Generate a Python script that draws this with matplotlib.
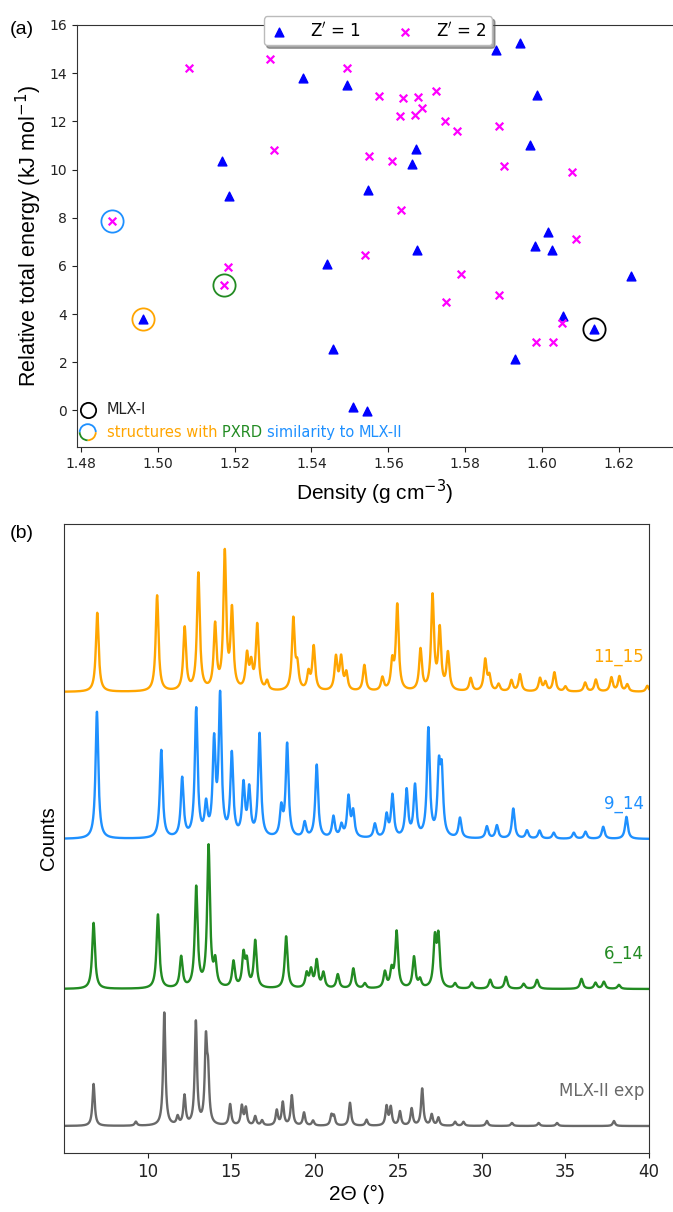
import numpy as np
import matplotlib
matplotlib.use("Agg")
import matplotlib.pyplot as plt
from matplotlib.patches import Arc

# ---------------- Panel (a) data ----------------
z1_density = [1.5379, 1.5493, 1.5167, 1.5186, 1.4961, 1.5440, 1.5457, 1.5509,
              1.5880, 1.5942, 1.5986, 1.5671, 1.5968, 1.5661, 1.5546, 1.6014,
              1.5981, 1.6026, 1.5675, 1.6231, 1.6055, 1.6135, 1.5929, 1.5544]
z1_energy = [13.81, 13.50, 10.34, 8.89, 3.79, 6.09, 2.54, 0.13,
             14.98, 15.26, 13.08, 10.87, 11.03, 10.23, 9.16, 7.41,
             6.84, 6.67, 6.67, 5.56, 3.90, 3.37, 2.14, -0.01]
z2_density = [1.5082, 1.5292, 1.5493, 1.5302, 1.4882, 1.5184, 1.5173,
              1.5576, 1.5638, 1.5678, 1.5724, 1.5687, 1.5629, 1.5668, 1.5746,
              1.5778, 1.5888, 1.5550, 1.5610, 1.5901, 1.6077, 1.5632, 1.6087,
              1.5538, 1.5788, 1.5888, 1.5750, 1.6052, 1.5984, 1.6029]
z2_energy = [14.21, 14.60, 14.21, 10.83, 7.88, 5.94, 5.22,
             13.07, 12.95, 13.03, 13.27, 12.57, 12.21, 12.28, 12.03,
             11.62, 11.82, 10.55, 10.34, 10.16, 9.90, 8.31, 7.13,
             6.45, 5.66, 4.80, 4.51, 3.62, 2.82, 2.85]
# highlighted structures: (density, energy, colour)
highlight_density = [1.4882, 1.4961, 1.5173, 1.6135]
highlight_energy = [7.88, 3.79, 5.22, 3.37]
highlight_color = ['#1E90FF', '#FFA500', '#228B22', 'black']

# ---------------- Panel (b) data: peak lists (2theta, height) ----------------
orange_pos = [6.99, 10.57, 12.22, 13.04, 14.04, 14.62, 15.05, 15.95, 16.2, 16.56, 17.15,
              18.72, 18.96, 19.63, 19.94, 21.27, 21.58, 21.89, 22.97, 24.05, 24.64,
              24.94, 26.33, 27.05, 27.48, 27.97, 29.33, 30.2, 30.45, 31.0, 31.77, 32.28,
              33.48, 33.8, 34.34, 35.0, 36.18, 36.82, 37.75, 38.23, 38.7, 39.9]
orange_h = [79, 96, 63, 117, 64, 136, 78, 34, 24, 65, 9,
            71, 22, 17, 44, 33, 32, 17, 26, 13, 27,
            85, 41, 94, 60, 37, 13, 31, 14, 7, 11, 17,
            13, 9, 19, 5, 9, 12, 14, 15, 7, 6]
blue_pos = [6.97, 10.82, 12.07, 12.91, 13.5, 13.98, 14.34, 15.04, 15.74, 16.08, 16.7,
            18.0, 18.35, 19.4, 20.12, 21.12, 21.6, 22.02, 22.3, 23.6, 24.3, 24.65,
            25.5, 26.0, 26.8, 27.43, 27.6, 28.69, 30.3, 30.9, 31.88, 32.7, 33.45,
            34.3, 35.5, 36.2, 37.26, 38.65]
blue_h = [127, 88, 59, 128, 30, 92, 138, 82, 51, 46, 103,
          28, 93, 15, 73, 21, 12, 40, 25, 14, 22, 42,
          47, 51, 108, 64, 60, 20, 12, 13, 30, 8, 8,
          6, 6, 7, 12, 22]
green_pos = [6.77, 10.62, 12.01, 12.91, 13.65, 14.05, 15.14, 15.74, 15.94, 16.44,
             18.29, 19.52, 19.78, 20.12, 20.52, 21.38, 22.31, 23.0, 24.2, 24.6,
             24.9, 25.94, 26.3, 27.19, 27.4, 28.4, 29.4, 30.5, 31.44, 32.5, 33.3,
             35.96, 36.8, 37.3, 38.2]
green_h = [66, 74, 31, 100, 141, 24, 26, 32, 24, 47,
           52, 14, 17, 27, 15, 14, 20, 5, 16, 17,
           56, 31, 8, 47, 49, 5, 6, 9, 12, 5, 9,
           10, 6, 7, 4]
gray_pos = [6.77, 9.3, 11.0, 11.8, 12.21, 12.89, 13.49, 13.62, 14.94, 15.64, 15.88,
            16.44, 16.85, 17.73, 18.09, 18.63, 19.36, 19.9, 21.0, 21.15, 22.11, 23.1,
            24.3, 24.55, 25.1, 25.8, 26.43, 27.0, 27.4, 28.4, 28.9, 30.3, 31.8,
            33.4, 34.5, 37.9]
gray_h = [42, 4, 113, 8, 29, 103, 80, 45, 21, 19, 17,
          9, 5, 15, 23, 30, 13, 5, 10, 9, 23, 6,
          19, 18, 14, 17, 37, 11, 8, 4, 4, 5, 3,
          3, 3, 5]
pattern_labels = ['11_15', '9_14', '6_14', 'MLX-II exp']
pattern_colors = ['#FFA500', '#1E90FF', '#228B22', '#696969']
pattern_offsets = [461, 314, 164, 27]

# ---------------- Figure ----------------
W, H = 673, 1212
fig = plt.figure(figsize=(W / 100, H / 100), dpi=100)

ax1 = fig.add_axes([77 / W, 1 - 447 / H, (W - 77) / W, (447 - 25) / H])
ax1.scatter(z1_density, z1_energy, marker='^', s=40, color='#0000FF', zorder=3,
            label="Z$'$ = 1")
ax1.scatter(z2_density, z2_energy, marker='x', s=30, color='#FF00FF', linewidths=1.6,
            zorder=3, label="Z$'$ = 2")
for xd, yd, c in zip(highlight_density, highlight_energy, highlight_color):
    ax1.plot([xd], [yd], marker='o', ms=16, mfc='none', mec=c, mew=1.3, zorder=4)
ax1.set_xlim(1.47904, 1.634)
ax1.set_ylim(-1.52, 16)
ax1.set_xticks(np.arange(1.48, 1.621, 0.02))
ax1.set_xticklabels([f"{v:.2f}" for v in np.arange(1.48, 1.621, 0.02)])
ax1.set_yticks(range(0, 17, 2))
ax1.spines['right'].set_visible(False)
for s in ax1.spines.values():
    s.set_color('#333333')
ax1.tick_params(labelsize=10, colors='#222222')
ax1.set_xlabel('Density (g cm$^{-3}$)', fontsize=15, family='Liberation Sans', labelpad=5)
ax1.set_ylabel('Relative total energy (kJ mol$^{-1}$)', fontsize=15.5,
               family='Liberation Sans', labelpad=4)
leg = ax1.legend(loc='upper center', bbox_to_anchor=(0.505, 1.04), ncol=2, fontsize=12,
                 shadow=True, fancybox=True, framealpha=1, handlelength=1.2,
                 handletextpad=1.3, columnspacing=2.0, borderpad=0.3)
leg.get_frame().set_edgecolor('#bbbbbb')

# lower-left annotation
ax1.plot([0.018], [0.088], transform=ax1.transAxes, marker='o', ms=11, mfc='none',
         mec='black', mew=1.3, clip_on=False)
ax1.text(0.05, 0.088, 'MLX-I', transform=ax1.transAxes, fontsize=10.5, va='center',
         color='#222222')
cx, cy = 0.018, 0.035
for t1, t2, c in [(0, 180, '#1E90FF'), (180, 270, '#228B22'), (270, 360, '#FFA500')]:
    arc = Arc((cx, cy), 0.027, 0.027 * 596 / 422, theta1=t1, theta2=t2, color=c, lw=1.3,
              transform=ax1.transAxes, clip_on=False)
    ax1.add_patch(arc)
pieces = [('structures with ', '#FFA500'), ('PXRD ', '#228B22'),
          ('similarity to ', '#1E90FF'), ('MLX-II', '#1E90FF')]
prev = ax1.text(0.05, 0.035, pieces[0][0], transform=ax1.transAxes, fontsize=10.5,
                va='center', color=pieces[0][1])
for txt, c in pieces[1:]:
    prev = ax1.annotate(txt, xycoords=prev, xy=(1, 0), va='bottom', fontsize=10.5, color=c)

fig.text(10 / W, 1 - 30 / H, '(a)', fontsize=14, family='Liberation Sans', va='center')

# ---------------- Panel (b) ----------------
ax2 = fig.add_axes([64 / W, 1 - 1153 / H, (649 - 64) / W, (1153 - 524) / H])
x = np.linspace(5, 40, 3501)


def profile(pos, hts, w):
    y = np.zeros_like(x)
    g = w / 2
    for p, h in zip(pos, hts):
        y += h * g ** 2 / ((x - p) ** 2 + g ** 2)
    return y


patterns = [(orange_pos, orange_h, 0.2), (blue_pos, blue_h, 0.2),
            (green_pos, green_h, 0.2), (gray_pos, gray_h, 0.16)]
for (pos, hts, w), lab, c, off in zip(patterns, pattern_labels, pattern_colors,
                                      pattern_offsets):
    ax2.plot(x, profile(pos, hts, w) + off, color=c, lw=1.7)
    ax2.text(39.7, off + 26, lab, color=c, fontsize=12, ha='right', va='bottom')

ax2.set_xlim(5, 40)
ax2.set_ylim(0, 629)
ax2.set_yticks([])
ax2.set_xticks(range(10, 41, 5))
ax2.tick_params(labelsize=12, colors='#222222')
for s in ax2.spines.values():
    s.set_color('#333333')
ax2.set_xlabel('2Θ (°)', fontsize=15, family='Liberation Sans', labelpad=3)
ax2.set_ylabel('Counts', fontsize=14.5, family='Liberation Sans', labelpad=4)
fig.text(10 / W, 1 - 533 / H, '(b)', fontsize=14, family='Liberation Sans', va='center')

fig.savefig('out.png', dpi=100)
